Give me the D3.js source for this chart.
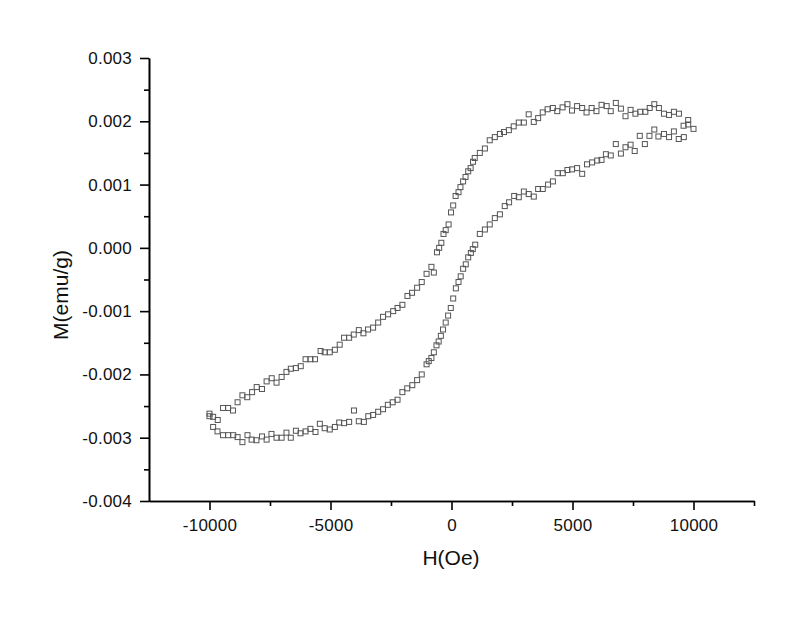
<!DOCTYPE html>
<html>
<head>
<meta charset="utf-8">
<script src="https://cdn.jsdelivr.net/npm/d3@7"></script>
<style>
  body { margin: 0; background: #fff; }
  .axis path, .axis line { stroke: #000; stroke-width: 1.6px; }
  .axis text { font-family: "Liberation Sans", Arial, sans-serif; font-size: 17px; letter-spacing: 0.25px; fill: #111; }
  .label { font-family: "Liberation Sans", Arial, sans-serif; font-size: 21px; fill: #111; }
</style>
</head>
<body>
<script>
// descending branch (upper curve), H in Oe, M in emu/g
var hUpper = [-10000, -9850, -9660, -9440, -9230, -9030, -8840, -8640, -8440, -8240,
              -8050, -7830, -7640, -7430, -7230, -7020, -6820, -6640, -6430, -6230,
              -6030, -5830, -5640, -5410, -5240, -5030, -4820, -4620, -4440, -4230,
              -4040, -3830, -3640, -3450, -3240, -3030, -2830, -2620, -2410, -2230,
              -2030, -1820, -1630, -1420, -1230, -1030, -830, -730, -600, -510,
              -420, -330, -240, -120, -20, 70, 170, 290, 370, 480,
              580, 690, 790, 890, 960, 1170, 1380, 1580, 1790, 2000,
              2170, 2370, 2570, 2780, 2990, 3190, 3400, 3580, 3770, 3970,
              4190, 4370, 4590, 4790, 4980, 5190, 5400, 5580, 5790, 5990,
              6200, 6410, 6580, 6790, 7000, 7190, 7400, 7600, 7800, 8010,
              8190, 8380, 8570, 8780, 8990, 9190, 9400, 9590, 9780, 10000];
var mUpper = [-0.00262, -0.00267, -0.00272, -0.00253, -0.00253, -0.00257, -0.00244, -0.00233, -0.00236, -0.00228,
              -0.00220, -0.00223, -0.00211, -0.00206, -0.00213, -0.00204, -0.00196, -0.00191, -0.00190, -0.00187,
              -0.00176, -0.00176, -0.00176, -0.00163, -0.00165, -0.00165, -0.00161, -0.00153, -0.00142, -0.00142,
              -0.00137, -0.00130, -0.00135, -0.00129, -0.00126, -0.00118, -0.00109, -0.00105, -0.00100, -0.00095,
              -0.00090, -0.00076, -0.00071, -0.00063, -0.00054, -0.00041, -0.00030, -0.00039, -0.00007, 0.00000,
              0.00008, 0.00022, 0.00028, 0.00037, 0.00056, 0.00067, 0.00082, 0.00088, 0.00096, 0.00105,
              0.00112, 0.00121, 0.00126, 0.00136, 0.00142, 0.00150, 0.00157, 0.00170, 0.00175, 0.00180,
              0.00183, 0.00186, 0.00192, 0.00198, 0.00198, 0.00211, 0.00199, 0.00205, 0.00214, 0.00219,
              0.00221, 0.00216, 0.00222, 0.00227, 0.00217, 0.00224, 0.00221, 0.00214, 0.00221, 0.00216,
              0.00226, 0.00224, 0.00216, 0.00229, 0.00220, 0.00208, 0.00218, 0.00212, 0.00215, 0.00215,
              0.00221, 0.00227, 0.00221, 0.00212, 0.00210, 0.00215, 0.00212, 0.00193, 0.00202, 0.00188];

// ascending branch (lower curve)
var hLower = [-10000, -9850, -9670, -9440, -9230, -9020, -8840, -8640, -8430, -8260,
              -8060, -7830, -7640, -7440, -7230, -7020, -6820, -6640, -6430, -6240,
              -6030, -5830, -5620, -5440, -5240, -5030, -4820, -4640, -4440, -4230,
              -4030, -3830, -3620, -3440, -3240, -3030, -2830, -2630, -2430, -2230,
              -2030, -1830, -1620, -1420, -1230, -1030, -940, -830, -730, -620,
              -530, -440, -350, -240, -140, -30, 70, 180, 290, 380,
              480, 590, 690, 800, 880, 980, 1170, 1380, 1580, 1790,
              2000, 2200, 2380, 2590, 2780, 2990, 3190, 3400, 3580, 3770,
              3990, 4190, 4390, 4600, 4790, 4980, 5190, 5400, 5600, 5810,
              6020, 6200, 6380, 6580, 6790, 7000, 7190, 7400, 7570, 7780,
              7990, 8180, 8380, 8550, 8780, 8990, 9190, 9390, 9600, 9780];
var mLower = [-0.00266, -0.00283, -0.00290, -0.00296, -0.00296, -0.00296, -0.00299, -0.00307, -0.00296, -0.00303,
              -0.00304, -0.00298, -0.00303, -0.00294, -0.00300, -0.00300, -0.00292, -0.00300, -0.00289, -0.00293,
              -0.00290, -0.00286, -0.00291, -0.00278, -0.00285, -0.00287, -0.00283, -0.00276, -0.00277, -0.00275,
              -0.00257, -0.00274, -0.00275, -0.00266, -0.00264, -0.00259, -0.00255, -0.00248, -0.00244, -0.00240,
              -0.00228, -0.00222, -0.00217, -0.00209, -0.00200, -0.00184, -0.00179, -0.00174, -0.00165, -0.00154,
              -0.00148, -0.00139, -0.00129, -0.00118, -0.00107, -0.00095, -0.00080, -0.00064, -0.00054, -0.00045,
              -0.00033, -0.00026, -0.00015, -0.00008, -0.00002, 0.00005, 0.00022, 0.00029, 0.00037, 0.00047,
              0.00053, 0.00066, 0.00072, 0.00082, 0.00080, 0.00089, 0.00085, 0.00081, 0.00093, 0.00093,
              0.00100, 0.00105, 0.00118, 0.00118, 0.00123, 0.00124, 0.00126, 0.00117, 0.00132, 0.00135,
              0.00138, 0.00139, 0.00148, 0.00146, 0.00164, 0.00149, 0.00159, 0.00163, 0.00153, 0.00177,
              0.00164, 0.00177, 0.00187, 0.00176, 0.00180, 0.00175, 0.00184, 0.00172, 0.00175, 0.00195];

var xMajorTicks = [-10000, -5000, 0, 5000, 10000];
var xMinorTicks = [-7500, -2500, 2500, 7500, 12500];
var yMajorTicks = [-0.004, -0.003, -0.002, -0.001, 0, 0.001, 0.002, 0.003];
var yMinorTicks = [-0.0035, -0.0025, -0.0015, -0.0005, 0.0005, 0.0015, 0.0025];

var width = 800, height = 617;
var svg = d3.select("body").append("svg").attr("width", width).attr("height", height);

var x = d3.scaleLinear().domain([-12500, 12500]).range([149, 754]);
var y = d3.scaleLinear().domain([-0.004, 0.003]).range([501, 58]);

var loc = d3.formatLocale({decimal: ".", thousands: "", grouping: [3], currency: ["", ""], minus: "-"});

// minor ticks first, then major axes on top
svg.append("g").attr("class", "axis").attr("transform", "translate(0,501)")
   .call(d3.axisBottom(x).tickValues(xMinorTicks).tickSize(5).tickSizeOuter(0).tickFormat(""));
svg.append("g").attr("class", "axis").attr("transform", "translate(149,0)")
   .call(d3.axisLeft(y).tickValues(yMinorTicks).tickSize(5).tickSizeOuter(0).tickFormat(""));

svg.append("g").attr("class", "axis").attr("transform", "translate(0,501)")
   .call(d3.axisBottom(x).tickValues(xMajorTicks).tickSize(9).tickPadding(9).tickSizeOuter(0)
           .tickFormat(loc.format("d")));
svg.append("g").attr("class", "axis").attr("transform", "translate(149,0)")
   .call(d3.axisLeft(y).tickValues(yMajorTicks).tickSize(9).tickPadding(8).tickSizeOuter(0)
           .tickFormat(loc.format(".3f")));

svg.append("text").attr("class", "label")
   .attr("x", 451).attr("y", 565).attr("text-anchor", "middle")
   .text("H(Oe)");
svg.append("text").attr("class", "label")
   .attr("transform", "translate(68,295) rotate(-90)").attr("text-anchor", "middle")
   .text("M(emu/g)");

var points = hUpper.map(function (h, i) { return [h, mUpper[i]]; })
                   .concat(hLower.map(function (h, i) { return [h, mLower[i]]; }));

svg.append("g").selectAll("rect")
   .data(points)
   .enter().append("rect")
   .attr("x", function (d) { return x(d[0]) - 2.5; })
   .attr("y", function (d) { return y(d[1]) - 2.5; })
   .attr("width", 5)
   .attr("height", 5)
   .attr("fill", "none")
   .attr("stroke", "#555")
   .attr("stroke-width", 1);
</script>
</body>
</html>
